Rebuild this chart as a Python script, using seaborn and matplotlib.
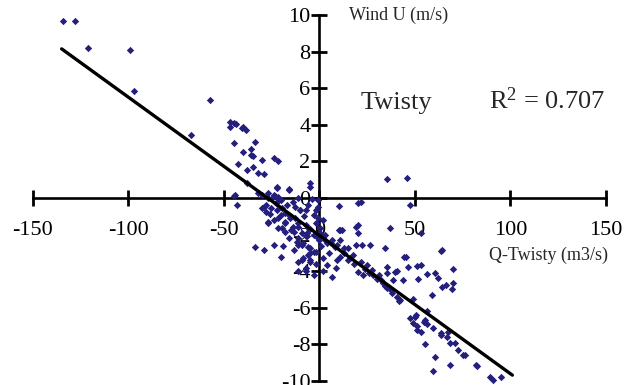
import numpy as np
import pandas as pd
import seaborn as sns
import matplotlib.pyplot as plt

sns.set_theme(style='white')
plt.rcParams['font.family'] = ['Liberation Serif', 'DejaVu Serif']
plt.rcParams['mathtext.fontset'] = 'custom'
plt.rcParams['mathtext.rm'] = 'Liberation Serif'
plt.rcParams['mathtext.it'] = 'Liberation Serif:italic'
plt.rcParams['axes.unicode_minus'] = False

points = [
    (-134.5, 9.67), (-128, 9.67), (-121, 8.2), (-99, 8.1), (-97, 5.85), (-57.5, 5.35), (-67.5, 3.44),
    (-46.6, 4.15), (-45, 4.1), (-47, 3.9), (-43.5, 4.05), (-40, 3.9), (-38.7, 3.7), (-40.5, 3.8),
    (-44.5, 3.0), (-34, 3.06), (-35.6, 2.7), (-40.3, 2.5), (-35.6, 2.35), (-35, 2.3), (-42.4, 1.86),
    (-30, 2.08), (-24, 2.18), (-21.5, 2.04), (-35, 1.7), (-38, 1.53), (-32, 1.35), (-29.3, 1.3),
    (-37.7, 0.8), (-22.5, 0.6), (-15.7, 0.44), (-5.2, 0.8), (-32, 0.27), (-27.2, 0.27), (-45, 0.1),
    (-23.5, 0.1), (-21.5, 0.05),
    (35.6, 1.04), (46, 1.08),
    (-44, 0.16), (-43, -0.38), (-33.5, -2.7), (-29.3, -2.84), (-20.4, -3.2), (-24, -2.57), (-27, -1.37),
    (-29, -0.49), (-25.6, -0.55), (-22, -0.66), (-15, -1.75), (-11, -1.58), (-7.3, -2.1), (-9, -2.57),
    (-13.6, -2.84), (-11, -3.5), (-7.3, -3.8), (-11, -4.0), (-4.7, -3.4), (-3, -2.95),
    (-30, -0.55), (-28, -0.77), (-26.7, -1.31), (-22, -0.2), (-24.6, 0), (-20.4, -0.93), (-17.8, -1.37),
    (-19.4, -1.64), (-15.2, -1.1), (-13.6, -1.86), (-10, -0.66), (-11, -2.2), (-6.3, -2.1), (-11.5, -2.57),
    (-9, -3.4), (-4.7, -3.0), (-7.3, -4.0), (-3, -4.2),
    (10, -0.44), (21.5, -0.2), (19, -1.58), (20.4, -1.9), (10.5, -1.75), (37, -1.64), (34.5, -2.73),
    (26.7, -2.57), (22.5, -2.57), (1.6, -1.2), (-1, -0.5),
    (47.6, -0.38), (63.4, -2.9), (45.5, -3.2), (46.6, -3.77), (51, -3.7), (52.9, -3.66), (35.6, -3.77),
    (40.8, -4.0), (35.6, -4.1), (56.5, -4.15), (60.7, -4.1), (62.3, -4.37), (70, -3.9), (70, -4.64),
    (66, -4.75), (64.4, -4.86), (43.5, -4.5), (51.8, -4.43), (59, -5.3), (49, -5.5), (42.4, -5.57),
    (47.6, -6.56), (50, -6.5), (55.5, -6.67), (56.5, -6.9), (51.3, -7.0), (53, -7.3), (63.4, -7.4),
    (67, -7.6), (67.5, -7.3), (71.2, -7.9), (75.4, -8.6), (55.5, -8.0), (60.7, -8.7), (68.6, -9.1),
    (59.7, -9.45), (82.7, -9.2), (89.5, -9.8), (94.8, -9.8), (91, -9.95),
    (39.8, -4.04), (69.6, -4.97), (38.7, -4.48), (41.4, -5.63), (35.6, -4.9), (38.2, -5.2), (33, -4.64),
    (34.5, -4.8), (37.2, -5.0), (40.8, -5.4), (56.5, -6.2), (50.3, -6.4), (54.5, -6.8), (59.2, -7.1),
    (63.4, -7.5), (51.3, -7.2), (49.2, -6.83), (68.6, -7.9), (72.3, -8.3), (76.4, -8.6), (81.7, -9.1),
    (53, -1.9), (64, -2.84), (44.5, -3.2),
    (-3.7, -0.05), (20.4, -0.27), (-7.3, -0.66), (-3, -0.93), (-2, -1.37), (-6.3, -1.9), (-3, -2.0),
    (0.5, -1.9), (-0.5, -2.3), (3, -2.3), (5.8, -2.46), (9.4, -2.57), (10, -1.75), (12.6, -2.73), (19, -2.57),
    (-8.4, -2.46), (-4.7, -2.73), (20.4, -1.48),
    (-30, 0.16), (-26.7, 0), (-24, 0.16), (-22, 0.55), (-16, 0.5), (-23, -0.27), (-20.4, -0.1), (-28, -0.38),
    (-19.4, -0.55), (-16.8, -0.38), (-14, -0.22), (-11.5, 0), (-10, -0.66), (-5.8, -0.38), (-1, -0.1),
    (-4.7, 0.6), (-21.5, -1.1), (-17.8, -1.3), (-16, -0.93), (-12.6, -1.1), (-14, -1.6), (-11, -1.37),
    (-7.3, -1.48), (-2, -0.66), (-1, -1.1), (0.5, -1.64), (4, -2.46), (-17.8, -1.86), (-21.5, -1.64), (-1, -2.2),
    (-5.8, -2.68), (-2, -2.95), (-8.4, -3.28), (-4.7, -3.5), (2, -3.28), (4, -3.66), (8.4, -3.83), (6.8, -4.3),
    (11, -2.3), (12, -1.75), (6.8, -2.3), (14.7, -2.73), (17.8, -3.1), (21.5, -3.5), (25, -3.66), (20.4, -4.04),
    (23, -4.2), (27.7, -3.93), (31, -4.2), (36, -4.86), (11, -3.2), (14.7, -3.4), (3, -2.0),
    (8, -2.7), (13, -3.0), (16, -3.3), (24, -3.9), (28, -4.2), (30, -4.4), (32, -4.5), (26, -4.1), (18, -3.6),
    (-26, -0.9), (-24, -1.2), (-18, -0.8), (-13, -0.5), (-8, -1.0), (-5, -1.7), (-9, -1.9), (-12, -2.4),
    (-16, -2.2), (-19, -2.6), (-6, -3.1), (1, -2.6), (5, -3.0), (9, -3.4), (-2, -3.6), (2, -4.0),
]
q_twisty = [p[0] for p in points]
wind_u = [p[1] for p in points]

fit_x = [-135, 101]
fit_y = [8.15, -9.68]

x_ticks = [-150, -100, -50, 0, 50, 100, 150]
y_ticks = [-10, -8, -6, -4, -2, 0, 2, 4, 6, 8, 10]

df = pd.DataFrame({'Q-Twisty': q_twisty, 'Wind U': wind_u})

fig = plt.figure(figsize=(6.32, 3.85), dpi=100)
ax = fig.add_axes([0.0522, 0.0104, 0.9066, 0.9506])

sns.scatterplot(data=df, x='Q-Twisty', y='Wind U', marker='D', s=14, color='#241f7c',
                linewidth=0, ax=ax, zorder=3, clip_on=False)
sns.lineplot(x=fit_x, y=fit_y, color='black', linewidth=2.4, ax=ax, zorder=4)

ax.set_xlim(-150, 150)
ax.set_ylim(-10, 10)
ax.set_xticks(x_ticks)
ax.set_yticks(y_ticks)
ax.set_xlabel('')
ax.set_ylabel('')

for s in ['top', 'right']:
    ax.spines[s].set_visible(False)
ax.spines['left'].set_position(('data', 0))
ax.spines['bottom'].set_position(('data', 0))
for s in ['left', 'bottom']:
    ax.spines[s].set_linewidth(1.9)
    ax.spines[s].set_color('black')
    ax.spines[s].set_zorder(2)

ax.tick_params(axis='both', which='major', direction='inout', length=11, width=2,
               colors='black', labelsize=16, bottom=True, left=True)
ax.tick_params(axis='x', pad=11)
ax.tick_params(axis='y', pad=1)
ax.patch.set_visible(False)

ax.text(21.5, 4.86, 'Twisty', fontsize=19, va='baseline', ha='left')
ax.text(88.5, 4.86, 'R$^{2}$ = 0.707', fontsize=19, va='baseline', ha='left')
ax.text(15.2, 9.73, 'Wind U (m/s)', fontsize=13, va='baseline', ha='left')
ax.text(89, -3.39, 'Q-Twisty (m3/s)', fontsize=13, va='baseline', ha='left')

fig.savefig('out.png', dpi=100)
